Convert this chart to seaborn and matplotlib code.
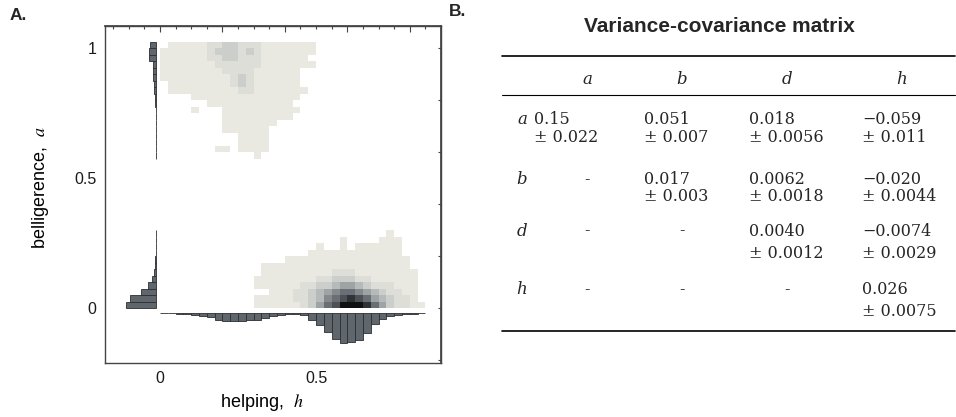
import numpy as np
import pandas as pd
import matplotlib
matplotlib.use("Agg")
import matplotlib.pyplot as plt
import seaborn as sns
from matplotlib.colors import LinearSegmentedColormap
from matplotlib.ticker import FixedLocator, NullFormatter
from matplotlib.lines import Line2D

BIN = 0.025

# ---------------- data ----------------
# 2-D histogram of belligerence a (rows) vs helping h (columns).
# One string per a-bin (highest a first), one character per h-bin.
# '.' = empty, digit = density level (0 lightest ... 9 darkest)
low_h_start = 0.30
low_a_start = 0.00
low_rows = [
    ".................0....",
    "...........0....000...",
    "........0..0.000000...",
    ".......000000000000...",
    "....0000000000000000..",
    ".0000000000000000000..",
    ".00000000011100000000.",
    "000000001122211000000.",
    "000000112234432111000.",
    "..0001123456654321100.",
    "000001123567876432110.",
    "0000001246799986421100",
]
up_h_start = 0.00
up_a_start = 0.575
up_rows = [
    ".0000011221110000000",
    "00000012221210000000",
    "0000001122111000000.",
    "00000001111110000000",
    "000000001111000000..",
    "000000000121000000..",
    ".00000000121000000..",
    ".000000000110000000.",
    "....00000000000000..",
    "......00000000000...",
    "....0...0000000000..",
    "........000000000...",
    "........0000000.....",
    "........000000......",
    "..........0000......",
    "..........0000......",
    ".......00.0000......",
    "............0.......",
]

# marginal histogram of helping h (bins of 0.025 from 0 to 0.85), relative frequency
h_marg = [0.3, 0.5, 0.8, 1.3, 2.0, 3.0, 4.7, 7.0, 8.0, 8.3, 8.3, 7.5, 7.0, 5.0, 3.3,
          2.0, 1.5, 1.5, 2.5, 7.3, 12.3, 19.3, 26.7, 30.0, 29.3, 27.3, 20.7, 11.0,
          6.0, 3.3, 1.7, 1.0, 0.7, 0.3]
# marginal histogram of belligerence a (bins of 0.025 from 0 to 1.025), relative frequency
a_marg = [30.0, 26.0, 15.3, 8.7, 4.3, 2.7, 1.7, 1.0, 0.7, 0.5, 0.4, 0.3,
          0, 0, 0, 0, 0, 0, 0, 0, 0, 0, 0,
          0.3, 0.3, 0.4, 0.4, 0.5, 0.5, 0.6, 0.7, 1.0, 1.3, 2.0, 2.7, 3.0, 3.3,
          3.7, 7.0, 7.7, 6.7]

x_ticks = [0, 0.5]
x_ticklabels = ["0", "0.5"]
y_ticks = [0, 0.5, 1]
y_ticklabels = ["0", "0.5", "1"]

table_title = "Variance-covariance matrix"
table_vars = ["a", "b", "d", "h"]
table_vals = [["0.15", "0.051", "0.018", "\u22120.059"],
              [None, "0.017", "0.0062", "\u22120.020"],
              [None, None, "0.0040", "\u22120.0074"],
              [None, None, None, "0.026"]]
table_errs = [["0.022", "0.007", "0.0056", "0.011"],
              [None, "0.003", "0.0018", "0.0044"],
              [None, None, "0.0012", "0.0029"],
              [None, None, None, "0.0075"]]


def grid_records(rows, h0, a0):
    recs = []
    n = len(rows)
    for r, row in enumerate(rows):
        k = n - 1 - r
        for j, ch in enumerate(row):
            if ch != ".":
                recs.append((h0 + (j + 0.5) * BIN, a0 + (k + 0.5) * BIN, int(ch) + 1))
    return recs


df = pd.DataFrame(grid_records(low_rows, low_h_start, low_a_start)
                  + grid_records(up_rows, up_h_start, up_a_start),
                  columns=["h", "a", "w"])

# ---------------- style ----------------
sns.set_theme(style="white")
plt.rcParams["font.family"] = ["Liberation Sans", "DejaVu Sans"]
plt.rcParams["mathtext.fontset"] = "stix"

W, H = 956, 417
fig = plt.figure(figsize=(W / 100, H / 100), dpi=100)
fig.patch.set_facecolor("white")


def fx(px):
    return px / W


def fy(py):
    return 1 - py / H


ax = fig.add_axes([fx(105), fy(363), 336 / W, 337 / H])

cmap = LinearSegmentedColormap.from_list(
    "graytones",
    [(0.0, "#e9e9e1"), (0.15, "#d9dad5"), (0.35, "#b4b7b7"),
     (0.6, "#7a8085"), (0.85, "#3a3f44"), (1.0, "#111111")])

sns.histplot(data=df, x="h", y="a", weights="w", binwidth=BIN,
             binrange=((0, 0.85), (0, 1.025)), cmap=cmap, vmin=1, vmax=10,
             ax=ax, cbar=False)

bar_face = "#60676c"
bar_edge = "#2b2f33"
h_scale = 0.115 / 30
a_scale = 0.096 / 30
h_base = -0.017
a_base = -0.012

h_centers = (np.arange(len(h_marg)) + 0.5) * BIN
ax.bar(h_centers, -np.array(h_marg) * h_scale, width=BIN, bottom=h_base,
       color=bar_face, edgecolor=bar_edge, linewidth=0.6, zorder=3)

a_vals = np.array(a_marg)
a_centers = (np.arange(len(a_marg)) + 0.5) * BIN
m = a_vals > 0
ax.barh(a_centers[m], -a_vals[m] * a_scale, height=BIN, left=a_base,
        color=bar_face, edgecolor=bar_edge, linewidth=0.6, zorder=3)

ax.set_xlim(-0.176, 0.90)
ax.set_ylim(-0.21, 1.086)

ax.set_xticks(x_ticks, x_ticklabels)
ax.set_yticks(y_ticks, y_ticklabels)
ax.tick_params(direction="in", length=3, width=0.8, color="#444444",
               labelcolor="#1a1a1a", labelsize=11.5, pad=6)
for s in ax.spines.values():
    s.set_visible(True)
    s.set_color("#444444")
    s.set_linewidth(1.0)

ax.set_xlabel("helping,  $h$", fontsize=13, color="black")
ax.set_ylabel("belligerence,  $a$", fontsize=13, color="black")
ax.xaxis.set_label_coords((262 - 105) / 336, -0.085)
ax.yaxis.set_label_coords(-0.16, 0.52)

top = ax.secondary_xaxis("top")
top.xaxis.set_major_locator(FixedLocator([0, 0.2, 0.4, 0.6, 0.8]))
top.xaxis.set_minor_locator(FixedLocator(np.round(np.arange(-0.15, 0.86, 0.05), 2)))
top.xaxis.set_major_formatter(NullFormatter())
top.tick_params(which="major", direction="in", length=4, width=0.8, color="#444444")
top.tick_params(which="minor", direction="in", length=2.2, width=0.8, color="#444444")
top.spines["top"].set_color("#444444")

right = ax.secondary_yaxis("right")
right.yaxis.set_major_locator(FixedLocator([-0.2, 0, 0.2, 0.4, 0.6, 0.8, 1.0]))
right.yaxis.set_major_formatter(NullFormatter())
right.tick_params(which="major", direction="in", length=2.2, width=0.8, color="#444444")
right.spines["right"].set_color("#444444")

# panel letters
fig.text(fx(10), fy(16), "A.", fontsize=12.5, fontweight="bold", va="center", ha="left")
fig.text(fx(449), fy(11), "B.", fontsize=12.5, fontweight="bold", va="center", ha="left")

# ---------------- table (panel B) ----------------
fig.text(fx(719), fy(26), table_title, fontsize=15, fontweight="bold",
         ha="center", va="center")

x0, x1 = 502, 955
for yy, lw in [(56, 1.2), (95, 0.8), (331, 1.2)]:
    fig.add_artist(Line2D([fx(x0), fx(x1)], [fy(yy), fy(yy)], color="black",
                          lw=lw, transform=fig.transFigure))

serif = ["DejaVu Serif"]
col_center = [587, 682, 787, 902]
col_left = [534, 644, 749, 862]
row_label_x = 522
header_y = 80
row_y1 = [120, 180, 231, 290]
row_y2 = [137, 197, 253, 312]
fs = 11.5

for c, name in enumerate(table_vars):
    fig.text(fx(col_center[c]), fy(header_y), name, family=serif, style="italic",
             fontsize=fs + 0.5, ha="center", va="center")
for r, name in enumerate(table_vars):
    fig.text(fx(row_label_x), fy(row_y1[r]), name, family=serif, style="italic",
             fontsize=fs + 0.5, ha="center", va="center")
    for c in range(len(table_vars)):
        v = table_vals[r][c]
        e = table_errs[r][c]
        if v is None:
            fig.text(fx(col_center[c]), fy(row_y1[r]), "-", family=serif,
                     fontsize=fs, ha="center", va="center")
        else:
            fig.text(fx(col_left[c]), fy(row_y1[r]), v, family=serif,
                     fontsize=fs, ha="left", va="center")
            fig.text(fx(col_left[c]), fy(row_y2[r]), "\u00b1 " + e, family=serif,
                     fontsize=fs, ha="left", va="center")

fig.savefig("out.png", dpi=100)
